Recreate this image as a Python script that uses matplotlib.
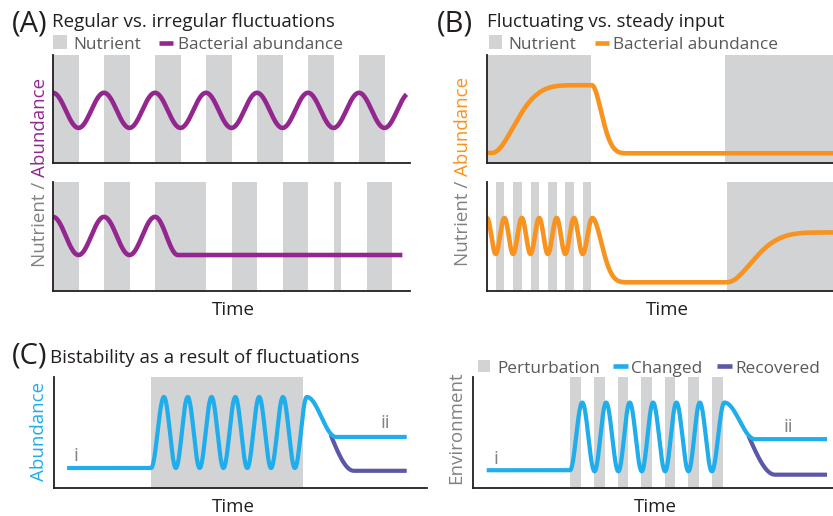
import numpy as np
import matplotlib
matplotlib.use("Agg")
import matplotlib.pyplot as plt
from matplotlib.patches import Rectangle
from matplotlib.lines import Line2D

plt.rcParams['font.family'] = ['Open Sans', 'DejaVu Sans']

# ------------------------------------------------------------------ data
# Panel A (time unit = one nutrient pulse)
A_TOP_BANDS = [(0, 1), (2, 3), (4, 5), (6, 7), (8, 9), (10, 11), (12, 13)]
A_TOP_T = [0, 1, 2, 3, 4, 5, 6, 7, 8, 9, 10, 11, 12, 13, 14]
A_TOP_V = [6.5, 3.25] * 7 + [6.5]
A_TOP_END = 13.88
A_BOT_BANDS = [(0, 1), (2, 3), (4, 6), (7, 8), (9, 10), (11, 11.3), (12.3, 13.3)]
A_BOT_T = [0, 1, 2, 3, 4, 4.9, 13.7]
A_BOT_V = [6.8, 3.3, 6.8, 3.3, 6.8, 3.3, 3.3]

# Panel B
B_TOP_BANDS = [(0, 6.0), (13.7, 21)]
B_TOP_T = [0, 0.29, 5.34, 6.03, 8.2, 21]
B_TOP_V = [0.93, 0.93, 7.2, 7.2, 0.9, 0.9]
B_TOP_SHAPE = [1, 2, 1, 2, 1]
B_BOT_BANDS = [(0.5, 1.0), (1.5, 2.0), (2.5, 3.0), (3.5, 4.0), (4.5, 5.0), (5.5, 6.0), (13.8, 21)]
B_BOT_T = [0, 0.5, 1, 1.5, 2, 2.5, 3, 3.5, 4, 4.5, 5, 5.5, 6.05, 8.2, 13.8, 19.9, 21]
B_BOT_V = [6.7, 3.4] * 6 + [6.7, 0.8, 0.8, 5.37, 5.37]
B_BOT_SHAPE = [1] * 12 + [2, 1, 2.2, 1]

# Panel C, left (bistability)
C_L_BANDS = [(4.08, 10.45)]
C_L_T = [0.55, 4.08, 4.62, 5.12, 5.62, 6.12, 6.62, 7.12, 7.62, 8.12, 8.62, 9.12,
         9.62, 10.12, 10.62, 11.85, 14.82]
C_L_V = [1.8, 1.8] + [8.2, 1.8] * 6 + [8.2, 4.6, 4.6]
C_L_REC_T = [10.62, 12.6, 14.82]
C_L_REC_V = [8.2, 1.55, 1.55]
C_L_SPLIT = 11.6

# Panel C, right (environment)
C_R_BANDS = [(4.13, 4.58), (5.13, 5.58), (6.13, 6.58), (7.13, 7.58), (8.13, 8.58),
             (9.13, 9.58), (10.13, 10.58)]
C_R_T = [0.58, 4.11, 4.63, 5.15, 5.64, 6.16, 6.64, 7.15, 7.63, 8.14, 8.62, 9.13,
         9.61, 10.12, 10.65, 11.95, 15.0]
C_R_V = [1.6, 1.6] + [7.7, 1.5] * 6 + [7.7, 4.4, 4.4]
C_R_REC_T = [10.65, 12.8, 15.0]
C_R_REC_V = [7.7, 1.2, 1.2]
C_R_SPLIT = 11.65

# ------------------------------------------------------------------ style
PURPLE = '#93278F'
ORANGE = '#F7931E'
BLUE = '#1FADEB'
RECOV = '#5C58A8'
BAND = '#D1D3D4'
INK = '#231F20'
GREY_TXT = '#58595B'
LABEL_GREY = '#808285'

W, H = 833, 516
fig = plt.figure(figsize=(W / 100, H / 100), dpi=100)


def fx(x):
    return x / W


def fy(y):
    return 1 - y / H


def add_ax(x0, y0, x1, y1, xmax):
    ax = fig.add_axes([fx(x0), fy(y1), (x1 - x0) / W, (y1 - y0) / H])
    ax.set_xlim(0, xmax)
    ax.set_ylim(0, 10)
    ax.set_xticks([])
    ax.set_yticks([])
    ax.patch.set_alpha(0)
    for s in ('top', 'right'):
        ax.spines[s].set_visible(False)
    for s in ('left', 'bottom'):
        ax.spines[s].set_color(INK)
        ax.spines[s].set_linewidth(1.3)
        ax.spines[s].set_zorder(5)
    return ax


def eased(ts, vs, shape=None, n=60):
    """Smooth (zero-slope) transitions between successive knots.
    shape p > 1 skews a transition so it moves fast early and settles slowly."""
    xs, ys = [], []
    for i in range(len(ts) - 1):
        s = np.linspace(0, 1, n)
        p = 1 if shape is None else shape[i]
        g = 1 - (1 - s) ** p
        e = (1 - np.cos(np.pi * g)) / 2
        xs.append(ts[i] + (ts[i + 1] - ts[i]) * s)
        ys.append(vs[i] + (vs[i + 1] - vs[i]) * e)
    return np.concatenate(xs), np.concatenate(ys)


def bands(ax, bl):
    for a, b in bl:
        ax.axvspan(a, b, ymin=0, ymax=1, color=BAND, lw=0, zorder=1)


def curve(ax, ts, vs, color, lw, shape=None, tmin=None, tmax=None):
    x, y = eased(ts, vs, shape)
    m = np.ones_like(x, dtype=bool)
    if tmin is not None:
        m &= x >= tmin
    if tmax is not None:
        m &= x <= tmax
    ax.plot(x[m], y[m], color=color, lw=lw, solid_capstyle='butt',
            solid_joinstyle='round', zorder=3)


# ------------------------------------------------------------------ Panel A
axA1 = add_ax(53, 55, 410, 163, 14)
bands(axA1, A_TOP_BANDS)
curve(axA1, A_TOP_T, A_TOP_V, PURPLE, 3.3, tmax=A_TOP_END)
axA2 = add_ax(53, 182, 410, 291, 14)
bands(axA2, A_BOT_BANDS)
curve(axA2, A_BOT_T, A_BOT_V, PURPLE, 3.3)

# ------------------------------------------------------------------ Panel B
axB1 = add_ax(487, 55, 840, 163, (840 - 487) / 17.4)
bands(axB1, B_TOP_BANDS)
curve(axB1, B_TOP_T, B_TOP_V, ORANGE, 3.3, shape=B_TOP_SHAPE)
axB2 = add_ax(487, 182, 840, 291, (840 - 487) / 17.4)
bands(axB2, B_BOT_BANDS)
curve(axB2, B_BOT_T, B_BOT_V, ORANGE, 3.3, shape=B_BOT_SHAPE)

# ------------------------------------------------------------------ Panel C
axC1 = add_ax(54, 377, 427, 488, (427 - 54) / 23.8)
bands(axC1, C_L_BANDS)
curve(axC1, C_L_REC_T, C_L_REC_V, RECOV, 3.0, tmin=C_L_SPLIT)
curve(axC1, C_L_T, C_L_V, BLUE, 3.0)
axC1.text(0.92, 2.9, 'i', color=LABEL_GREY, fontsize=13.5, ha='center', va='center')
axC1.text(13.9, 5.9, 'ii', color=LABEL_GREY, fontsize=13.5, ha='center', va='center')

axC2 = add_ax(473, 377, 840, 488, (840 - 473) / 23.6)
bands(axC2, C_R_BANDS)
curve(axC2, C_R_REC_T, C_R_REC_V, RECOV, 3.0, tmin=C_R_SPLIT)
curve(axC2, C_R_T, C_R_V, BLUE, 3.0)
axC2.text(0.97, 2.6, 'i', color=LABEL_GREY, fontsize=13.5, ha='center', va='center')
axC2.text(13.35, 5.5, 'ii', color=LABEL_GREY, fontsize=13.5, ha='center', va='center')

# ------------------------------------------------------------------ texts
TS = 13.5
LS = 12.4


def ftext(x, y, s, **kw):
    kw.setdefault('fontsize', TS)
    return fig.text(fx(x), fy(y), s, **kw)


# panel letters + titles
ftext(12, 31.5, '(A)', fontsize=21, color=INK, va='baseline')
ftext(52, 26.7, 'Regular vs. irregular fluctuations', color=INK, va='baseline')
ftext(437, 31.5, '(B)', fontsize=21, color=INK, va='baseline')
ftext(487, 26.7, 'Fluctuating vs. steady input', color=INK, va='baseline')
ftext(12, 363.3, '(C)', fontsize=21, color=INK, va='baseline')
ftext(50, 363.3, 'Bistability as a result of fluctuations', color=INK, va='baseline')


def legend_square(x0, y0, x1, y1):
    fig.add_artist(Rectangle((fx(x0), fy(y1)), (x1 - x0) / W, (y1 - y0) / H,
                             transform=fig.transFigure, color=BAND, lw=0))


def legend_dash(x0, x1, y, color):
    fig.add_artist(Line2D([fx(x0), fx(x1)], [fy(y), fy(y)], transform=fig.transFigure,
                          color=color, lw=3.3, solid_capstyle='butt'))


# legend A
legend_square(53, 35, 67, 49)
ftext(73, 49.3, 'Nutrient', color=GREY_TXT, va='baseline', fontsize=LS)
legend_dash(159, 173, 43, PURPLE)
ftext(178, 49.3, 'Bacterial abundance', color=GREY_TXT, va='baseline', fontsize=LS)
# legend B
legend_square(489, 35, 502, 49)
ftext(508, 49.3, 'Nutrient', color=GREY_TXT, va='baseline', fontsize=LS)
legend_dash(595, 609, 43, ORANGE)
ftext(613, 49.3, 'Bacterial abundance', color=GREY_TXT, va='baseline', fontsize=LS)
# legend C
legend_square(478, 360, 490, 372)
ftext(497, 373.3, 'Perturbation', color=GREY_TXT, va='baseline', fontsize=LS)
legend_dash(613, 628, 366, BLUE)
ftext(631, 373.3, 'Changed', color=GREY_TXT, va='baseline', fontsize=LS)
legend_dash(717, 732, 366, RECOV)
ftext(735, 373.3, 'Recovered', color=GREY_TXT, va='baseline', fontsize=LS)

# Time labels
ftext(233, 315, 'Time', color=INK, ha='center', va='baseline')
ftext(667, 315, 'Time', color=INK, ha='center', va='baseline')
ftext(233, 511.5, 'Time', color=INK, ha='center', va='baseline')
ftext(655, 511.5, 'Time', color=INK, ha='center', va='baseline')

# y labels
renderer = fig.canvas.get_renderer()


def stacked_ylabel(x, y_bottom, parts, gap=5):
    y = fy(y_bottom)
    for s, c in parts:
        t = fig.text(fx(x), y, s, rotation=90, ha='center', va='bottom',
                     color=c, fontsize=TS)
        bb = t.get_window_extent(renderer)
        y = (bb.y1 + gap) / H


stacked_ylabel(40, 267, [('Nutrient /', LABEL_GREY), ('Abundance', PURPLE)])
stacked_ylabel(463, 266, [('Nutrient /', LABEL_GREY), ('Abundance', ORANGE)])
ftext(39, 431, 'Abundance', color=BLUE, rotation=90, ha='center', va='center')
ftext(456, 428, 'Environment', color=LABEL_GREY, rotation=90, ha='center', va='center')

fig.savefig('out.png', dpi=100)
